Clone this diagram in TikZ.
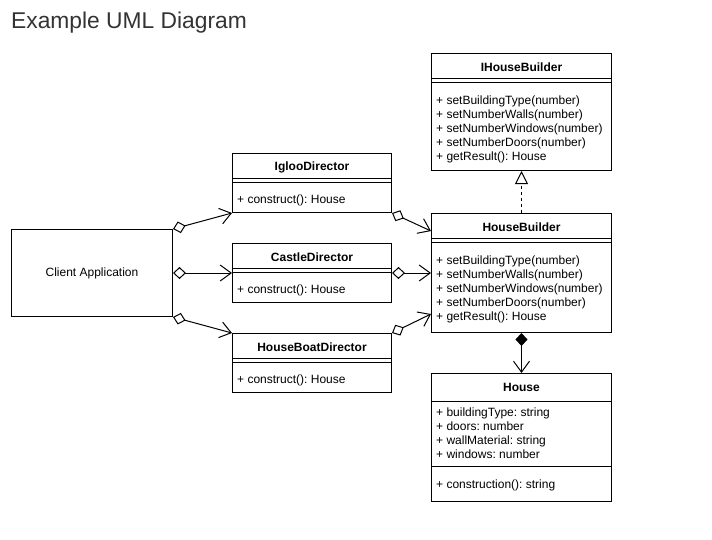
\documentclass[tikz,border=0pt]{standalone}
\usepackage{fontspec}
\setmainfont{Liberation Sans}
\usetikzlibrary{arrows.meta,positioning}
\frenchspacing

\tikzset{
  classbox/.style={draw, line width=1pt, anchor=north west, inner sep=0pt},
  classname/.style={font=\bfseries\fontsize{12}{14}\selectfont, inner sep=0pt, minimum height=28pt},
  members/.style={anchor=west, align=left, inner sep=0pt, font=\fontsize{12}{14}\selectfont},
  assoc/.style={line width=1pt, {Diamond[open,length=13pt,width=12pt]}-{Straight Barb[length=11pt,width=16pt]}},
  realize/.style={line width=1pt, dashed, -{Triangle[open,length=13pt,width=13pt]}},
  compose/.style={line width=1pt, {Diamond[fill=black,length=13pt,width=12pt]}-{Straight Barb[length=11pt,width=16pt]}}
}

\begin{document}
\begin{tikzpicture}[x=1pt,y=-1pt]
    \useasboundingbox (0,0) rectangle (712,539);
    \node[anchor=base west, inner sep=0pt, text=black!80, font=\fontsize{22.8}{26}\selectfont] (title) at (11,28) {Example UML Diagram};

    % client
    \node[classbox, minimum width=161pt, minimum height=87pt, anchor=north west] (client) at (11,229) {};
    \node[font=\fontsize{12}{14}\selectfont, inner sep=0pt] (clienttext) at (client.center) {Client Application};

    % directors
    \node[classbox, minimum width=159pt, minimum height=59pt] (igloo) at (232,153) {};
    \node[classname, below=0pt of igloo.north] (iglooname) {IglooDirector};
    \draw[line width=1pt] ([yshift=-25pt]igloo.north west) -- ([yshift=-25pt]igloo.north east);
    \draw[line width=1pt] ([yshift=-29pt]igloo.north west) -- ([yshift=-29pt]igloo.north east);
    \node[members] (iglooops) at ([xshift=5pt,yshift=-47.5pt]igloo.north west) {+ construct(): House};

    \node[classbox, minimum width=159pt, minimum height=59pt] (castle) at (232,243) {};
    \node[classname, below=0pt of castle.north] (castlename) {CastleDirector};
    \draw[line width=1pt] ([yshift=-25pt]castle.north west) -- ([yshift=-25pt]castle.north east);
    \draw[line width=1pt] ([yshift=-29pt]castle.north west) -- ([yshift=-29pt]castle.north east);
    \node[members] (castleops) at ([xshift=5pt,yshift=-47.5pt]castle.north west) {+ construct(): House};

    \node[classbox, minimum width=159pt, minimum height=59pt] (boat) at (232,333) {};
    \node[classname, below=0pt of boat.north] (boatname) {HouseBoatDirector};
    \draw[line width=1pt] ([yshift=-25pt]boat.north west) -- ([yshift=-25pt]boat.north east);
    \draw[line width=1pt] ([yshift=-29pt]boat.north west) -- ([yshift=-29pt]boat.north east);
    \node[members] (boatops) at ([xshift=5pt,yshift=-47.5pt]boat.north west) {+ construct(): House};

    % builders
    \node[classbox, minimum width=180pt, minimum height=117pt] (ihb) at (431,53) {};
    \node[classname, below=0pt of ihb.north] (ihbname) {IHouseBuilder};
    \draw[line width=1pt] ([yshift=-25pt]ihb.north west) -- ([yshift=-25pt]ihb.north east);
    \draw[line width=1pt] ([yshift=-29pt]ihb.north west) -- ([yshift=-29pt]ihb.north east);
    \node[members] (ihbops) at ([xshift=5pt,yshift=-76.5pt]ihb.north west) {+ setBuildingType(number)\\+ setNumberWalls(number)\\+ setNumberWindows(number)\\+ setNumberDoors(number)\\+ getResult(): House};

    \node[classbox, minimum width=180pt, minimum height=119pt] (hb) at (431,213) {};
    \node[classname, below=0pt of hb.north] (hbname) {HouseBuilder};
    \draw[line width=1pt] ([yshift=-25pt]hb.north west) -- ([yshift=-25pt]hb.north east);
    \draw[line width=1pt] ([yshift=-29pt]hb.north west) -- ([yshift=-29pt]hb.north east);
    \node[members] (hbops) at ([xshift=5pt,yshift=-76.5pt]hb.north west) {+ setBuildingType(number)\\+ setNumberWalls(number)\\+ setNumberWindows(number)\\+ setNumberDoors(number)\\+ getResult(): House};

    % product
    \node[classbox, minimum width=180pt, minimum height=128pt] (house) at (431,373) {};
    \node[classname, below=0pt of house.north] (housename) {House};
    \draw[line width=1pt] ([yshift=-28pt]house.north west) -- ([yshift=-28pt]house.north east);
    \node[members] (houseattr) at ([xshift=5pt,yshift=-60.5pt]house.north west) {+ buildingType: string\\+ doors: number\\+ wallMaterial: string\\+ windows: number};
    \draw[line width=1pt] ([yshift=-93pt]house.north west) -- ([yshift=-93pt]house.north east);
    \node[members] (houseops) at ([xshift=5pt,yshift=-112.5pt]house.north west) {+ construction(): string};

    % connectors
    \draw[assoc] (client.north east) -- (igloo.south west);
    \draw[assoc] (client.east) -- (castle.west);
    \draw[assoc] (client.south east) -- (boat.north west);
    \draw[assoc] (igloo.south east) -- ([yshift=-18pt]hb.north west);
    \draw[assoc] (castle.east) -- (hb.west);
    \draw[assoc] (boat.north east) -- ([yshift=19pt]hb.south west);
    \draw[realize] (hb.north) -- (ihb.south);
    \draw[compose] (hb.south) -- (house.north);
\end{tikzpicture}
\end{document}
